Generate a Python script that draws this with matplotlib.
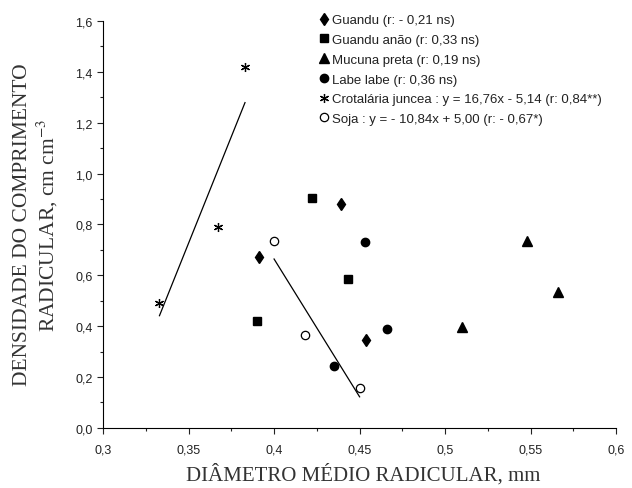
import matplotlib
matplotlib.use("Agg")
import matplotlib.pyplot as plt
from matplotlib.ticker import MultipleLocator, FuncFormatter
import numpy as np

# dados
guandu_x = [0.391, 0.439, 0.454]
guandu_y = [0.67, 0.88, 0.345]
anao_x = [0.422, 0.443, 0.390]
anao_y = [0.905, 0.585, 0.42]
mucuna_x = [0.548, 0.566, 0.510]
mucuna_y = [0.735, 0.533, 0.398]
labe_x = [0.453, 0.435, 0.466]
labe_y = [0.73, 0.243, 0.387]
crot_x = [0.333, 0.367, 0.383]
crot_y = [0.49, 0.79, 1.42]
soja_x = [0.400, 0.418, 0.450]
soja_y = [0.735, 0.366, 0.155]

legend_labels = [
    "Guandu (r: - 0,21 ns)",
    "Guandu anão (r: 0,33 ns)",
    "Mucuna preta (r: 0,19 ns)",
    "Labe labe (r: 0,36 ns)",
    "Crotalária juncea : y = 16,76x - 5,14 (r: 0,84**)",
    "Soja : y = - 10,84x + 5,00 (r: - 0,67*)",
]

plt.rcParams["font.family"] = ["Liberation Sans", "DejaVu Sans"]
plt.rcParams["mathtext.fontset"] = "stix"

fig = plt.figure(figsize=(6.32, 4.89), dpi=100)
ax = fig.add_axes([0.163, 0.123, 0.812, 0.832])

ax.plot(guandu_x, guandu_y, "d", color="k", ms=6.5, ls="none", label=legend_labels[0])
ax.plot(anao_x, anao_y, "s", color="k", ms=6.3, ls="none", label=legend_labels[1])
ax.plot(mucuna_x, mucuna_y, "^", color="k", ms=6.5, ls="none", label=legend_labels[2])
ax.plot(labe_x, labe_y, "o", color="k", ms=6, ls="none", label=legend_labels[3])
ax.plot(crot_x, crot_y, marker=(6, 2, 0), color="k", ms=6.5, mew=0.9, ls="none",
        label=legend_labels[4])
ax.plot(soja_x, soja_y, "o", mfc="white", mec="k", ms=6, mew=0.9, ls="none",
        label=legend_labels[5])

# retas de regressao
xc = np.array([min(crot_x), max(crot_x)])
ax.plot(xc, 16.76 * xc - 5.14, color="k", lw=0.9)
xs = np.array([min(soja_x), max(soja_x)])
ax.plot(xs, -10.84 * xs + 5.00, color="k", lw=0.9)

ax.set_xlim(0.3, 0.6)
ax.set_ylim(0.0, 1.6)
ax.xaxis.set_major_locator(MultipleLocator(0.05))
ax.xaxis.set_minor_locator(MultipleLocator(0.025))
ax.yaxis.set_major_locator(MultipleLocator(0.2))
ax.yaxis.set_minor_locator(MultipleLocator(0.1))
ax.xaxis.set_major_formatter(FuncFormatter(lambda v, p: ("%g" % round(v, 3)).replace(".", ",")))
ax.yaxis.set_major_formatter(FuncFormatter(lambda v, p: ("%.1f" % v).replace(".", ",")))
ax.tick_params(which="major", direction="out", length=4, width=0.8, labelsize=9,
               color="#222222", labelcolor="#222222")
ax.tick_params(axis="x", which="major", pad=7)
ax.tick_params(which="minor", direction="out", length=2.5, width=0.8, color="#222222")
ax.spines["top"].set_visible(False)
ax.spines["right"].set_visible(False)

fig.text(0.574, (489 - 475) / 489, "DIÂMETRO MÉDIO RADICULAR, mm", family="Liberation Serif",
         fontsize=15, color="#333333", ha="center", va="center")
fig.text(36.5 / 632, 1 - 225 / 489, "DENSIDADE DO COMPRIMENTO\nRADICULAR, cm cm$^{-3}$",
         family="Liberation Serif", fontsize=15.5, color="#333333", rotation=90,
         ha="center", va="center", linespacing=1.15, multialignment="center")

ax.legend(loc="upper left", bbox_to_anchor=(0.407, 1.03), frameon=False,
          fontsize=9.5, handletextpad=0.1, handlelength=1.0, labelspacing=0.57,
          borderaxespad=0, labelcolor="#222222")

fig.savefig("out.png", dpi=100)
